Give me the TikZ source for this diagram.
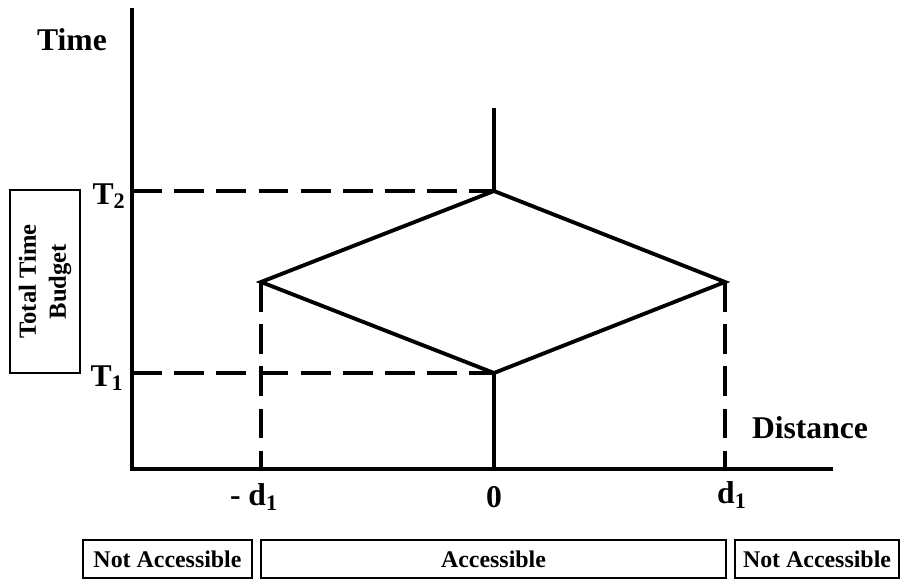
\documentclass[tikz,border=0pt]{standalone}
\usepackage{fontspec}
\setmainfont{Liberation Serif}
\usetikzlibrary{positioning}

\begin{document}
\begin{tikzpicture}[
    axis/.style={
        line width=2.2pt
    },
    guide/.style={
        line width=2.2pt, dash pattern=on 17pt off 7pt
    },
    lab/.style={
        font=\fontsize{18}{20}\selectfont\bfseries, inner sep=0pt
    },
    zone/.style={
        draw, line width=0.8pt, rectangle, inner sep=0pt, minimum height=.76cm,
        font=\fontsize{13.6}{15}\selectfont\bfseries
    },
]

    \useasboundingbox (0,0) rectangle (18,11.6);

    \coordinate (o) at (2.64,2.22);
    \coordinate (ytop) at (2.64,11.44);
    \coordinate (xend) at (16.66,2.22);
    \coordinate (y2) at (2.64,7.78);
    \coordinate (y1) at (2.64,4.14);
    \coordinate (top) at (9.88,9.44);
    \coordinate (t2) at (9.88,7.78);
    \coordinate (t1) at (9.88,4.14);
    \coordinate (dl) at (5.22,5.96);
    \coordinate (dr) at (14.5,5.96);
    \coordinate (z) at (9.88,2.22);
    \coordinate (fl) at (5.22,2.22);
    \coordinate (fr) at (14.5,2.22);

    \draw[axis] (ytop) -- (o) -- (xend);
    \draw[axis] (top) -- (t2);
    \draw[axis] (t1) -- (z);
    \draw[axis, line join=miter] (t2) -- (dr) -- (t1) -- (dl) -- cycle;

    \draw[guide] (y2) -- (t2);
    \draw[guide] (y1) -- (t1);
    \draw[guide] (dl) -- (fl);
    \draw[guide] (dr) -- (fr);

    \node[lab] (time) at (1.44,10.8) {Time};
    \node[lab, anchor=east] (lt2) at (2.52,7.68) {T\textsubscript{2}};
    \node[lab, anchor=east] (lt1) at (2.48,4.04) {T\textsubscript{1}};
    \node[lab] (dist) at (16.2,3.04) {Distance};
    \node[lab] (ld1) at (5.08,1.66) {- d\textsubscript{1}};
    \node[lab] (l0) at (9.88,1.66) {0};
    \node[lab] (lr1) at (14.64,1.7) {d\textsubscript{1}};

    \node[draw, line width=0.8pt, minimum width=1.4cm, minimum height=3.66cm] (budget) at (0.9,5.97) {};
    \node[rotate=90, align=center, font=\fontsize{14}{17}\selectfont\bfseries] at (budget) {Total Time\\Budget};

    \node[zone, minimum width=3.38cm] (nal) at (3.35,0.42) {Not Accessible};
    \node[zone, minimum width=9.3cm] (acc) at (9.87,0.42) {Accessible};
    \node[zone, minimum width=3.28cm] (nar) at (16.34,0.42) {Not Accessible};

\end{tikzpicture}
\end{document}
